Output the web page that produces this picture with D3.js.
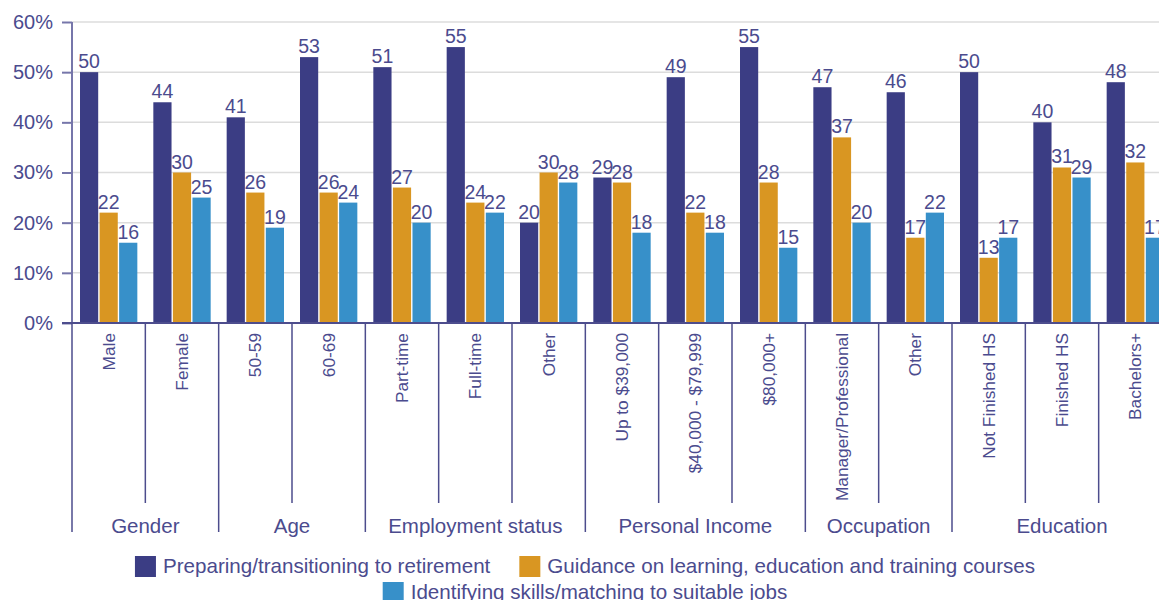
<!DOCTYPE html>
<html>
<head>
<meta charset="utf-8">
<script src="https://cdn.jsdelivr.net/npm/d3@7"></script>
<style>
  html, body { margin: 0; padding: 0; background: #ffffff; overflow: hidden; }
  svg { display: block; font-family: "Liberation Sans", Arial, sans-serif; }
</style>
</head>
<body>
<svg id="chart" width="1159" height="600"></svg>
<script>
// Survey categories, grouped by demographic dimension
const categories = [
  "Male", "Female",
  "50-59", "60-69",
  "Part-time", "Full-time", "Other",
  "Up to $39,000", "$40,000 - $79,999", "$80,000+",
  "Manager/Professional", "Other",
  "Not Finished HS", "Finished HS", "Bachelors+"
];
const groups = ["Gender", "Age", "Employment status", "Personal Income", "Occupation", "Education"];
const groupSizes = [2, 2, 3, 3, 2, 3];

const seriesNames = [
  "Preparing/transitioning to retirement",
  "Guidance on learning, education and training courses",
  "Identifying skills/matching to suitable jobs"
];
// Percent of respondents, per category
const retirement = [50, 44, 41, 53, 51, 55, 20, 29, 49, 55, 47, 46, 50, 40, 48];
const learning   = [22, 30, 26, 26, 27, 24, 30, 28, 22, 28, 37, 17, 13, 31, 32];
const jobs       = [16, 25, 19, 24, 20, 22, 28, 18, 18, 15, 20, 22, 17, 29, 17];
const yTicks = [0, 10, 20, 30, 40, 50, 60];

const seriesValues = [retirement, learning, jobs];
const colors = ["#3b3d84", "#d99622", "#3790c9"];
const textColor = "#4b4b8e";
const axisColor = "#4d4d8d";

const svg = d3.select("#chart");

const plotLeft = 72, plotRight = 1172, plotTop = 22, plotBottom = 323;

const x = d3.scaleBand()
  .domain(d3.range(categories.length))
  .range([plotLeft, plotRight])
  .paddingInner(0).paddingOuter(0);

const xInner = d3.scaleBand()
  .domain(d3.range(seriesNames.length))
  .range([8, x.bandwidth() - 8])
  .paddingInner(0.07);

const y = d3.scaleLinear().domain([0, 60]).range([plotBottom, plotTop]);

// Horizontal gridlines
svg.append("g")
  .selectAll("line")
  .data(yTicks.filter(d => d > 0))
  .join("line")
  .attr("x1", plotLeft).attr("x2", plotRight)
  .attr("y1", d => y(d)).attr("y2", d => y(d))
  .attr("stroke", "#dcdcdc")
  .attr("stroke-width", 1.5);

// Bars
const catG = svg.append("g")
  .selectAll("g")
  .data(categories.map((c, i) => i))
  .join("g")
  .attr("transform", i => `translate(${x(i)},0)`);

catG.selectAll("rect")
  .data(i => seriesValues.map((vals, s) => ({ s, v: vals[i] })))
  .join("rect")
  .attr("x", d => xInner(d.s))
  .attr("width", xInner.bandwidth())
  .attr("y", d => y(d.v))
  .attr("height", d => y(0) - y(d.v))
  .attr("fill", d => colors[d.s]);

// Value labels
catG.selectAll("text.val")
  .data(i => seriesValues.map((vals, s) => ({ s, v: vals[i] })))
  .join("text")
  .attr("class", "val")
  .attr("x", d => xInner(d.s) + xInner.bandwidth() / 2)
  .attr("y", d => y(d.v) - 4)
  .attr("text-anchor", "middle")
  .attr("font-size", 19.5)
  .attr("fill", textColor)
  .text(d => d.v);

// Y axis
const yAxis = d3.axisLeft(y)
  .tickValues(yTicks)
  .tickFormat(d => d + "%")
  .tickSize(10)
  .tickPadding(9);
const yG = svg.append("g")
  .attr("transform", `translate(${plotLeft},0)`)
  .call(yAxis);
yG.select(".domain").attr("stroke", "#7676aa").attr("stroke-width", 2).attr("d", `M0,${plotTop}V${plotBottom}`);
yG.selectAll(".tick line").attr("stroke", "#7676aa").attr("stroke-width", 2);
yG.selectAll(".tick text")
  .attr("font-size", 20)
  .attr("fill", textColor)
  .attr("font-family", "Liberation Sans, Arial, sans-serif");

// Baseline
svg.append("line")
  .attr("x1", 62).attr("x2", plotRight)
  .attr("y1", plotBottom).attr("y2", plotBottom)
  .attr("stroke", axisColor).attr("stroke-width", 2);

// Separators below the axis: short between categories, long between groups
const groupStarts = [];
let acc = 0;
groupSizes.forEach(n => { groupStarts.push(acc); acc += n; });
const boundaryIdx = d3.range(categories.length + 1);
svg.append("g")
  .selectAll("line")
  .data(boundaryIdx)
  .join("line")
  .attr("x1", i => i < categories.length ? x(i) : plotRight)
  .attr("x2", i => i < categories.length ? x(i) : plotRight)
  .attr("y1", plotBottom)
  .attr("y2", i => (groupStarts.includes(i) || i === categories.length) ? 532 : 503)
  .attr("stroke", axisColor)
  .attr("stroke-width", 1.5);

// Rotated category labels
svg.append("g")
  .selectAll("text")
  .data(categories)
  .join("text")
  .attr("transform", (c, i) => `translate(${x(i) + x.bandwidth() / 2 + 6},333) rotate(-90)`)
  .attr("text-anchor", "end")
  .attr("font-size", 17.3)
  .attr("fill", textColor)
  .text(c => c);

// Group labels
svg.append("g")
  .selectAll("text")
  .data(groups)
  .join("text")
  .attr("x", (g, k) => {
    const a = x(groupStarts[k]);
    const b = x(groupStarts[k] + groupSizes[k] - 1) + x.bandwidth();
    return (a + b) / 2;
  })
  .attr("y", 533)
  .attr("text-anchor", "middle")
  .attr("font-size", 20.5)
  .attr("fill", textColor)
  .text(g => g);

// Legend: two items on the first row, one on the second, centered
const legendCenter = 585;
const sq = 21, gapText = 7, gapItem = 29;
const rows = [[0, 1], [2]];
const rowBaselines = [573, 599];
rows.forEach((items, r) => {
  const row = svg.append("g");
  let cx = 0;
  items.forEach(s => {
    const item = row.append("g").attr("transform", `translate(${cx},0)`);
    item.append("rect")
      .attr("x", 0).attr("y", rowBaselines[r] - 17)
      .attr("width", sq).attr("height", sq)
      .attr("fill", colors[s]);
    const t = item.append("text")
      .attr("x", sq + gapText).attr("y", rowBaselines[r])
      .attr("font-size", 20.6)
      .attr("fill", textColor)
      .text(seriesNames[s]);
    cx += sq + gapText + t.node().getComputedTextLength() + gapItem;
  });
  const total = cx - gapItem;
  row.attr("transform", `translate(${legendCenter - total / 2},0)`);
});
</script>
</body>
</html>
